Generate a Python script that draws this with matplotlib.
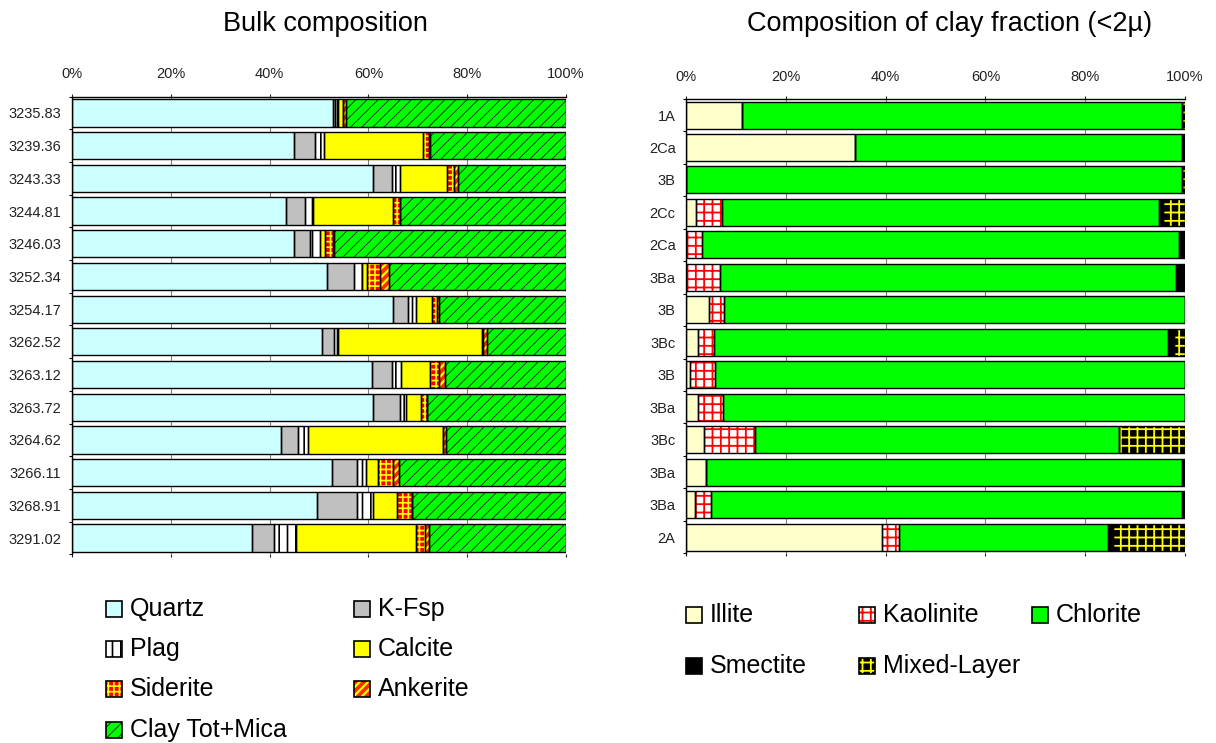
import numpy as np
import matplotlib

matplotlib.use("Agg")
import matplotlib.pyplot as plt
from matplotlib.patches import Rectangle
from matplotlib.ticker import MultipleLocator, PercentFormatter

plt.rcParams["font.family"] = ["Liberation Sans", "DejaVu Sans"]
plt.rcParams["hatch.linewidth"] = 1.2

# --- bulk mineralogy (wt %), one value per depth ---------------------------
depths = ["3235.83", "3239.36", "3243.33", "3244.81", "3246.03", "3252.34",
          "3254.17", "3262.52", "3263.12", "3263.72", "3264.62", "3266.11",
          "3268.91", "3291.02"]
bulk_names = ["Quartz", "K-Fsp", "Plag", "Calcite", "Siderite", "Ankerite",
              "Clay Tot+Mica"]
quartz = [52.9, 44.9, 60.9, 43.4, 44.9, 51.6, 64.9, 50.6, 60.8, 61.0, 42.4, 52.7, 49.6, 36.4]
kfsp = [0.4, 4.3, 3.8, 3.8, 3.3, 5.5, 3.2, 2.4, 3.9, 5.4, 3.3, 5.0, 8.1, 4.5]
plag = [0.5, 1.9, 1.6, 1.6, 2.0, 1.6, 1.6, 0.8, 1.9, 1.2, 2.0, 1.9, 3.2, 4.4]
calcite = [1.0, 20.0, 9.7, 16.1, 1.0, 1.1, 3.2, 29.1, 5.9, 3.1, 27.4, 2.4, 4.9, 24.4]
siderite = [0.0, 1.1, 1.3, 1.4, 1.7, 2.5, 0.9, 0.3, 1.8, 1.2, 0.0, 3.0, 3.0, 1.8]
ankerite = [0.7, 0.2, 0.9, 0.0, 0.1, 1.8, 0.4, 0.8, 1.2, 0.0, 0.6, 1.2, 0.0, 0.7]
clay_tot = [44.5, 27.6, 21.8, 33.7, 47.0, 35.9, 25.8, 16.0, 24.5, 28.1, 24.3, 33.8, 31.2, 27.8]

# --- clay fraction (<2 micron), relative % ---------------------------------
clay_samples = ["1A", "2Ca", "3B", "2Cc", "2Ca", "3Ba", "3B", "3Bc", "3B",
                "3Ba", "3Bc", "3Ba", "3Ba", "2A"]
clay_names = ["Illite", "Kaolinite", "Chlorite", "Smectite", "Mixed-Layer"]
illite = [11.3, 33.8, 0.0, 2.1, 0.0, 0.0, 4.6, 2.4, 0.8, 2.4, 3.7, 4.1, 1.8, 39.3]
kaolinite = [0.0, 0.0, 0.0, 5.1, 3.3, 6.9, 3.0, 3.2, 5.0, 5.1, 10.2, 0.0, 3.2, 3.3]
chlorite = [88.0, 65.6, 99.3, 87.6, 95.5, 91.2, 92.4, 91.0, 94.2, 92.5, 72.8, 95.2, 94.3, 41.9]
smectite = [0.0, 0.6, 0.0, 0.7, 1.2, 1.9, 0.0, 1.1, 0.0, 0.0, 0.0, 0.7, 0.7, 1.0]
mixed_layer = [0.7, 0.0, 0.7, 4.5, 0.0, 0.0, 0.0, 2.3, 0.0, 0.0, 13.3, 0.0, 0.0, 14.5]

# (face, hatch, hatch colour, hatch linewidth)
bulk_styles = [
    ("#CCFFFF", None, None, 0),
    ("#C0C0C0", None, None, 0),
    ("#FFFFFF", "||", "black", 1.2),
    ("#FFFF00", None, None, 0),
    ("#FF0000", "+++", "#FFFF00", 1.2),
    ("#FF2A00", "////", "#FFFF00", 1.6),
    ("#00FF00", "///", "#1a1a1a", 0.6),
]
clay_styles = [
    ("#FFFFCC", None, None, 0),
    ("#FFFFFF", "++", "#FF0000", 1.3),
    ("#00FF00", None, None, 0),
    ("#000000", None, None, 0),
    ("#000000", "++", "#FFFF00", 1.3),
]

W, H = 1216, 743


def set_hlw(patch, lw):
    if lw and hasattr(patch, "set_hatch_linewidth"):
        patch.set_hatch_linewidth(lw)


def stacked(ax, labels, series, styles, height=0.83):
    y = np.arange(len(labels))
    left = np.zeros(len(labels))
    for vals, (face, hatch, hcol, hlw) in zip(series, styles):
        vals = np.asarray(vals, dtype=float)
        bars = ax.barh(y, vals, left=left, height=height, color=face,
                       edgecolor=hcol or face, hatch=hatch, linewidth=0, zorder=2)
        for b in bars:
            set_hlw(b, hlw)
        ax.barh(y, vals, left=left, height=height, fill=False,
                edgecolor="black", linewidth=1.0, zorder=3)
        left += vals

    ax.set_xlim(0, 100)
    ax.set_ylim(len(labels) - 0.5, -0.5)
    ax.set_yticks(y, labels)
    ax.set_yticks(np.arange(len(labels) + 1) - 0.5, minor=True)
    ax.xaxis.set_major_locator(MultipleLocator(20))
    ax.xaxis.set_major_formatter(PercentFormatter(decimals=0))
    ax.tick_params(axis="x", top=True, labeltop=True, bottom=True,
                   labelbottom=False, length=2.5, width=0.8, pad=8.5,
                   labelsize=10.5, colors="#222222")
    ax.tick_params(axis="y", which="major", length=0, pad=7.5, labelsize=10.5,
                   colors="#222222")
    ax.tick_params(axis="y", which="minor", length=2.5, width=0.8)
    for side in ("right", "bottom"):
        ax.spines[side].set_visible(False)
    for side in ("top", "left"):
        ax.spines[side].set_linewidth(1.0)
    ax.grid(axis="x", color="#808080", linewidth=0.8)
    ax.set_axisbelow(True)


def legend_box(fig, x, y, label, style, size=16):
    face, hatch, hcol, hlw = style
    xy = (x / W, 1 - (y + size / 2) / H)
    wh = (size / W, size / H)
    p = Rectangle(xy, *wh, transform=fig.transFigure, facecolor=face,
                  edgecolor=hcol or face, hatch=hatch, linewidth=0)
    set_hlw(p, hlw)
    fig.add_artist(p)
    fig.add_artist(Rectangle(xy, *wh, transform=fig.transFigure, fill=False,
                             edgecolor="black", linewidth=1.2))
    fig.text((x + size + 8) / W, 1 - y / H, label, fontsize=18,
             ha="left", va="center")


fig = plt.figure(figsize=(W / 100, H / 100), dpi=100)
ax1 = fig.add_axes([72 / W, 1 - 554.4 / H, 494 / W, 457.8 / H])
ax2 = fig.add_axes([686 / W, 1 - 553.3 / H, 499 / W, 454.5 / H])

stacked(ax1, depths,
        [quartz, kfsp, plag, calcite, siderite, ankerite, clay_tot], bulk_styles)
stacked(ax2, clay_samples,
        [illite, kaolinite, chlorite, smectite, mixed_layer], clay_styles)

fig.text(325 / W, 1 - 24 / H, "Bulk composition", fontsize=19.5,
         ha="center", va="center")
fig.text(950 / W, 1 - 24 / H, "Composition of clay fraction (<2µ)",
         fontsize=19.5, ha="center", va="center")

# legends laid out row by row
for i, (name, style) in enumerate(zip(bulk_names, bulk_styles)):
    legend_box(fig, [106, 354][i % 2], [609, 649, 689, 730][i // 2], name, style)
for i, (name, style) in enumerate(zip(clay_names, clay_styles)):
    legend_box(fig, [686, 859, 1032][i % 3], [615, 666][i // 3], name, style)

fig.savefig("out.png", dpi=100)
